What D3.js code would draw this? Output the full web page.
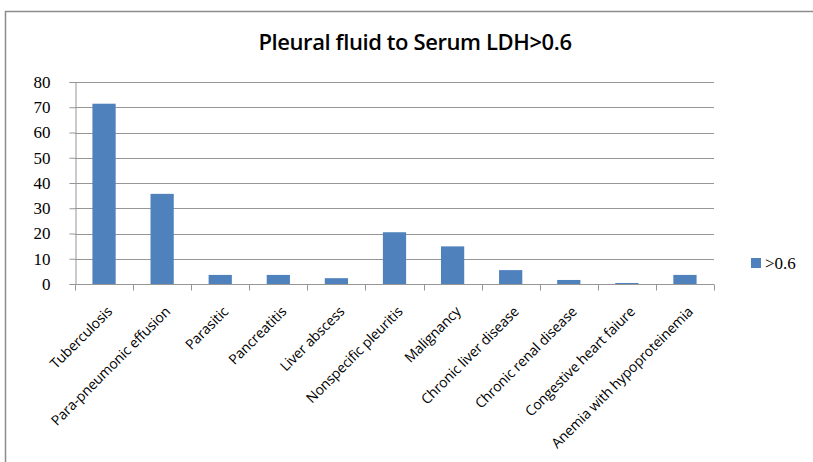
<!DOCTYPE html>
<html>
<head>
<meta charset="utf-8">
<script src="https://cdn.jsdelivr.net/npm/d3@7"></script>
<style>
  body { margin: 0; background: #fff; }
  svg { display: block; }
</style>
</head>
<body>
<svg id="chart" width="813" height="462"></svg>
<script>
let categories = ['Tuberculosis', 'Para-pneumonic effusion', 'Parasitic', 'Pancreatitis',
	'Liver abscess', 'Nonspecific pleuritis', 'Malignancy', 'Chronic liver disease',
	'Chronic renal disease', 'Congestive heart faiure', 'Anemia with hypoproteinemia'];
let values = [71.4, 35.7, 3.6, 3.6, 2.3, 20.5, 14.9, 5.5, 1.6, 0.4, 3.6];
let y_ticks = [0, 10, 20, 30, 40, 50, 60, 70, 80];
let series_name = '>0.6';
let title_text = 'Pleural fluid to Serum LDH>0.6';

let bar_color = '#4f81bd';
let grid_color = '#969696';
let plot = {left: 75, right: 714, top: 82, bottom: 284};

let svg = d3.select('#chart');

// outer frame
svg.append('rect')
	.attr('x', 5.5).attr('y', 11.5)
	.attr('width', 830).attr('height', 470)
	.attr('fill', 'none')
	.attr('stroke', '#8c8c8c')
	.attr('stroke-width', 1.5);

svg.append('text')
	.attr('x', 415).attr('y', 50)
	.attr('text-anchor', 'middle')
	.style('font-family', '"Open Sans", sans-serif')
	.style('font-size', '22px')
	.style('font-weight', 600)
	.style('letter-spacing', '-0.4px')
	.style('fill', '#000')
	.text(title_text);

let x = d3.scaleBand()
	.domain(categories)
	.range([plot.left, plot.right])
	.paddingInner(0.6)
	.paddingOuter(0.3);

let y = d3.scaleLinear()
	.domain([0, 80])
	.range([plot.bottom, plot.top]);

// gridlines
svg.selectAll('.grid')
	.data(y_ticks.slice(1))
	.enter().append('line')
	.attr('class', 'grid')
	.attr('x1', plot.left).attr('x2', plot.right)
	.attr('y1', d => Math.round(y(d)) + .5)
	.attr('y2', d => Math.round(y(d)) + .5)
	.attr('stroke', grid_color);

// bars
svg.selectAll('.bar')
	.data(values)
	.enter().append('rect')
	.attr('class', 'bar')
	.attr('x', (d, i) => x(categories[i]))
	.attr('y', d => y(d))
	.attr('width', x.bandwidth())
	.attr('height', d => plot.bottom - y(d))
	.attr('fill', bar_color);

// y axis
let y_axis = svg.append('g')
	.attr('transform', `translate(${plot.left + .5},0)`)
	.call(d3.axisLeft(y).tickValues(y_ticks).tickSize(6).tickPadding(19));
y_axis.selectAll('path, line').attr('stroke', grid_color);
y_axis.selectAll('text')
	.style('font-family', '"Liberation Serif", serif')
	.style('font-size', '17px')
	.style('fill', '#000');

// x axis with boundary ticks
let step = (plot.right - plot.left) / categories.length;
let x_axis = svg.append('g')
	.attr('transform', `translate(0,${plot.bottom + .5})`);
x_axis.append('line')
	.attr('x1', plot.left).attr('x2', plot.right)
	.attr('stroke', grid_color);
x_axis.selectAll('.xtick')
	.data(d3.range(categories.length + 1))
	.enter().append('line')
	.attr('x1', d => Math.round(plot.left + d * step) + .5)
	.attr('x2', d => Math.round(plot.left + d * step) + .5)
	.attr('y1', 0).attr('y2', 6)
	.attr('stroke', grid_color);
x_axis.selectAll('.xlabel')
	.data(categories)
	.enter().append('text')
	.attr('class', 'xlabel')
	.attr('transform', d => `translate(${x(d) + x.bandwidth() / 2 + 9},${28}) rotate(-45)`)
	.attr('text-anchor', 'end')
	.style('font-family', '"Open Sans", sans-serif')
	.style('font-size', '14px')
	.style('letter-spacing', '-0.15px')
	.style('fill', '#000')
	.text(d => d);

// legend
svg.append('rect')
	.attr('x', 751).attr('y', 258)
	.attr('width', 10).attr('height', 10)
	.attr('fill', bar_color);
svg.append('text')
	.attr('x', 765).attr('y', 269)
	.style('font-family', '"Liberation Serif", serif')
	.style('font-size', '17px')
	.style('fill', '#000')
	.text(series_name);
</script>
</body>
</html>
